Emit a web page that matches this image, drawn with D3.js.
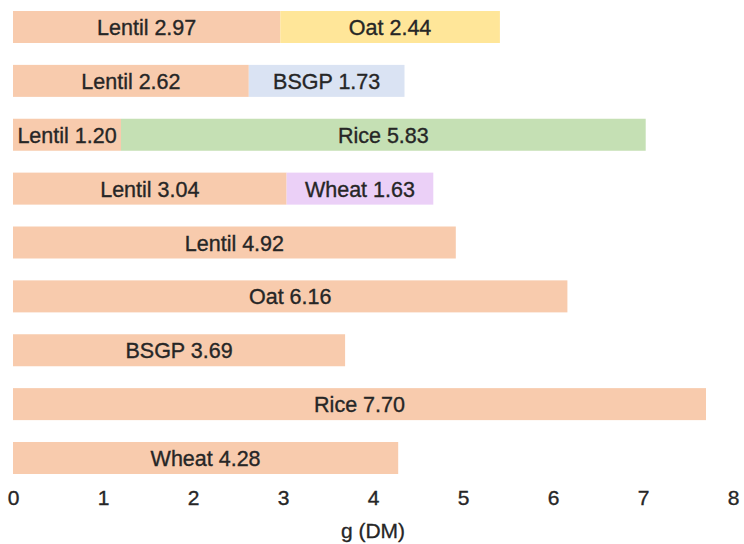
<!DOCTYPE html>
<html>
<head>
<meta charset="utf-8">
<script src="https://cdn.jsdelivr.net/npm/d3@7"></script>
<style>
  html, body { margin: 0; padding: 0; background: #fff; }
  svg { display: block; font-family: "Liberation Sans", Arial, sans-serif; }
</style>
</head>
<body>
<svg id="chart" width="744" height="544"></svg>
<script>
// Data
const rowIds = ["r1", "r2", "r3", "r4", "r5", "r6", "r7", "r8", "r9"];
const firstNames = ["Lentil", "Lentil", "Lentil", "Lentil", "Lentil", "Oat", "BSGP", "Rice", "Wheat"];
const firstValues = [2.97, 2.62, 1.20, 3.04, 4.92, 6.16, 3.69, 7.70, 4.28];
const secondNames = ["Oat", "BSGP", "Rice", "Wheat", null, null, null, null, null];
const secondValues = [2.44, 1.73, 5.83, 1.63, 0, 0, 0, 0, 0];
const xTicks = [0, 1, 2, 3, 4, 5, 6, 7, 8];
const axisTitle = "g (DM)";

const firstColor = "#F8CBAD";
const secondColors = { "Oat": "#FFE699", "BSGP": "#DAE3F3", "Rice": "#C5E0B4", "Wheat": "#EBD0F7" };
const textColor = "#262626";
const fontFam = "'Liberation Sans', Arial, sans-serif";

const svg = d3.select("#chart");

const x = d3.scaleLinear().domain([0, 8]).range([13, 733]);
const y = d3.scaleBand().domain(rowIds).range([11, 474]).paddingInner(0.406).paddingOuter(0);

const segments = [];
rowIds.forEach((id, i) => {
  segments.push({ row: id, start: 0, value: firstValues[i], name: firstNames[i], color: firstColor });
  if (secondNames[i]) {
    segments.push({ row: id, start: firstValues[i], value: secondValues[i], name: secondNames[i], color: secondColors[secondNames[i]] });
  }
});

const g = svg.append("g");

g.selectAll("rect.seg")
  .data(segments)
  .join("rect")
  .attr("class", "seg")
  .attr("x", d => x(d.start))
  .attr("y", d => y(d.row))
  .attr("width", d => x(d.start + d.value) - x(d.start))
  .attr("height", y.bandwidth())
  .attr("fill", d => d.color);

g.selectAll("text.lbl")
  .data(segments)
  .join("text")
  .attr("class", "lbl")
  .attr("x", d => (x(d.start) + x(d.start + d.value)) / 2)
  .attr("y", d => y(d.row) + y.bandwidth() / 2 + 1)
  .attr("text-anchor", "middle")
  .attr("dominant-baseline", "central")
  .attr("font-family", fontFam)
  .attr("font-size", 21.5)
  .attr("fill", textColor)
  .attr("stroke", textColor)
  .attr("stroke-width", 0.35)
  .text(d => `${d.name} ${d.value.toFixed(2)}`);

const axis = d3.axisBottom(x).tickValues(xTicks).tickSize(0).tickPadding(0).tickFormat(d3.format("d"));
const ax = svg.append("g").attr("transform", "translate(0,490)").call(axis);
ax.select(".domain").remove();
ax.selectAll("text")
  .attr("font-size", 21)
  .attr("font-family", fontFam)
  .attr("fill", textColor)
  .attr("stroke", textColor)
  .attr("stroke-width", 0.35)
  .attr("dy", "0.71em");

svg.append("text")
  .attr("x", (x(0) + x(8)) / 2)
  .attr("y", 530)
  .attr("text-anchor", "middle")
  .attr("dominant-baseline", "central")
  .attr("font-family", fontFam)
  .attr("font-size", 21)
  .attr("fill", textColor)
  .attr("stroke", textColor)
  .attr("stroke-width", 0.3)
  .text(axisTitle);
</script>
</body>
</html>
